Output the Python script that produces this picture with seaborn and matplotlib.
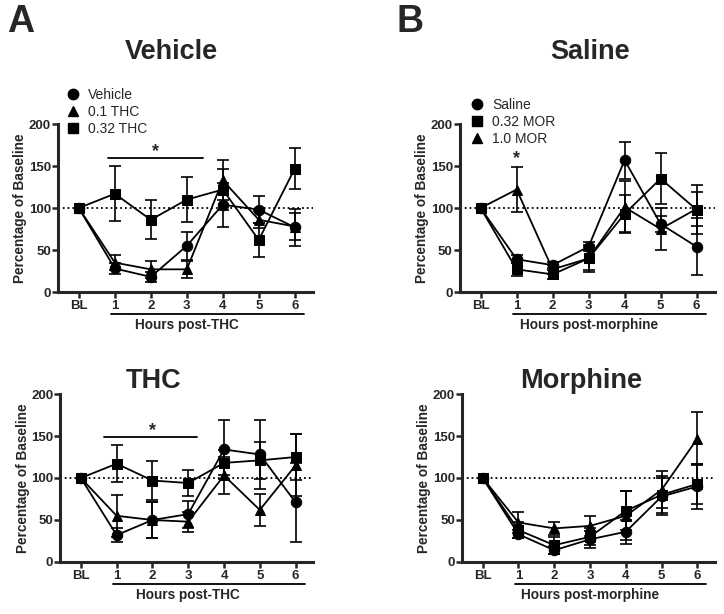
import matplotlib
matplotlib.use("Agg")
import pandas as pd
import matplotlib.pyplot as plt
import seaborn as sns
from matplotlib.lines import Line2D

# x positions and labels
hours = [0, 1, 2, 3, 4, 5, 6]
hour_labels = ["BL", "1", "2", "3", "4", "5", "6"]

# A top: Vehicle
veh_groups = ["Vehicle", "0.1 THC", "0.32 THC"]
veh_vehicle = [100, 28, 18, 55, 104, 98, 77]
veh_vehicle_err = [0, 6, 6, 17, 26, 16, 22]
veh_01thc = [100, 35, 27, 27, 133, 86, 78]
veh_01thc_err = [0, 9, 10, 10, 24, 10, 16]
veh_032thc = [100, 117, 86, 110, 122, 62, 147]
veh_032thc_err = [0, 33, 23, 27, 24, 20, 24]

# A bottom: THC
thc_vehicle = [100, 32, 50, 57, 134, 128, 71]
thc_vehicle_err = [0, 8, 22, 16, 35, 41, 47]
thc_01thc = [100, 55, 50, 48, 103, 62, 115]
thc_01thc_err = [0, 25, 22, 12, 22, 19, 37]
thc_032thc = [100, 117, 97, 94, 118, 121, 125]
thc_032thc_err = [0, 22, 23, 15, 15, 22, 27]

# B top: Saline
mor_groups = ["Saline", "0.32 MOR", "1.0 MOR"]
sal_saline = [100, 39, 32, 54, 157, 81, 54]
sal_saline_err = [0, 5, 4, 5, 22, 10, 34]
sal_032mor = [100, 27, 21, 40, 93, 135, 98]
sal_032mor_err = [0, 8, 5, 14, 22, 30, 29]
sal_10mor = [100, 122, 27, 40, 101, 75, 99]
sal_10mor_err = [0, 27, 5, 16, 31, 25, 20]

# B bottom: Morphine
morph_saline = [100, 33, 14, 27, 36, 78, 90]
morph_saline_err = [0, 5, 5, 10, 14, 22, 27]
morph_032mor = [100, 38, 20, 30, 61, 80, 93]
morph_032mor_err = [0, 10, 10, 10, 23, 22, 24]
morph_10mor = [100, 47, 40, 43, 55, 86, 147]
morph_10mor_err = [0, 13, 8, 12, 29, 22, 31]

sns.set_style("ticks")
plt.rcParams['font.family'] = ['Liberation Sans', 'DejaVu Sans']
plt.rcParams['font.weight'] = 'bold'


def draw_panel(ax, groups, means, errs, markers, title, title_pos, xlab,
               legend_anchor=None, star=None):
    rows = []
    for g, m in zip(groups, means):
        for h, v in zip(hours, m):
            rows.append({"hour": h, "value": v, "group": g})
    df = pd.DataFrame(rows)

    for m, e in zip(means, errs):
        ax.errorbar(hours[1:], m[1:], yerr=e[1:], fmt='none', ecolor='black',
                    elinewidth=1.2, capsize=4, capthick=1.2, zorder=2)

    sns.lineplot(data=df, x="hour", y="value", hue="group", style="group",
                 palette=dict(zip(groups, ["black"] * 3)),
                 markers=dict(zip(groups, markers)), dashes=False,
                 errorbar=None, markersize=7.5, markeredgecolor='black',
                 linewidth=1.3, legend=False, ax=ax, zorder=3)

    ax.axhline(100, ls=':', color='black', lw=1.3, zorder=1)

    ax.set_xlim(-0.58, 6.5)
    ax.set_ylim(0, 200)
    ax.set_xticks(hours)
    ax.set_xticklabels(hour_labels)
    ax.set_yticks([0, 50, 100, 150, 200])
    ax.set_xlabel("")
    ax.set_ylabel("Percentage of Baseline", fontsize=9.8, fontweight='bold', labelpad=1)
    sns.despine(ax=ax)
    for s in ["left", "bottom"]:
        ax.spines[s].set_linewidth(2.2)
    ax.tick_params(axis='y', width=1.8, length=4, labelsize=9.5, pad=1)
    ax.tick_params(axis='x', width=1.8, length=4, labelsize=9.5, pad=2)

    tr = ax.get_xaxis_transform()
    ax.plot([0.9, 6.25], [-0.13, -0.13], transform=tr, color='black',
            lw=1.3, clip_on=False)
    ax.text(3.0, -0.195, xlab, transform=tr, ha='center', va='center',
            fontsize=9.8, fontweight='bold')

    ax.text(title_pos[0], title_pos[1], title, transform=ax.transAxes,
            ha='center', va='center', fontsize=19.5, fontweight='bold')

    if legend_anchor is not None:
        handles = [Line2D([], [], color='black', marker=mk, ls='none', markersize=7.5)
                   for mk in markers]
        ax.legend(handles, groups, loc='upper left', bbox_to_anchor=legend_anchor,
                  frameon=False, handlelength=0.6, handletextpad=0.8,
                  labelspacing=0.22, borderaxespad=0,
                  prop={'size': 10, 'weight': 'normal'})

    if star is not None:
        x0, x1, ybar, xs = star
        if x1 > x0:
            ax.plot([x0, x1], [ybar, ybar], color='black', lw=1.3, clip_on=False)
        ax.text(xs, ybar + 7, '*', ha='center', va='center', fontsize=13,
                fontweight='bold')


fig = plt.figure(figsize=(7.24, 6.14), dpi=100)
ax1 = fig.add_axes([0.080, 0.5244, 0.352, 0.2736])
ax2 = fig.add_axes([0.635, 0.5244, 0.352, 0.2736])
ax3 = fig.add_axes([0.083, 0.0847, 0.350, 0.2736])
ax4 = fig.add_axes([0.638, 0.0847, 0.350, 0.2736])

draw_panel(ax1, veh_groups, [veh_vehicle, veh_01thc, veh_032thc],
           [veh_vehicle_err, veh_01thc_err, veh_032thc_err], ['o', '^', 's'],
           "Vehicle", (0.447, 1.43), "Hours post-THC",
           legend_anchor=(0.02, 1.25), star=(0.8, 3.44, 160, 2.14))
draw_panel(ax2, mor_groups, [sal_saline, sal_032mor, sal_10mor],
           [sal_saline_err, sal_032mor_err, sal_10mor_err], ['o', 's', '^'],
           "Saline", (0.51, 1.43), "Hours post-morphine",
           legend_anchor=(0.03, 1.19), star=(1, 1, 152, 1))
draw_panel(ax3, veh_groups, [thc_vehicle, thc_01thc, thc_032thc],
           [thc_vehicle_err, thc_01thc_err, thc_032thc_err], ['o', '^', 's'],
           "THC", (0.37, 1.08), "Hours post-THC",
           star=(0.64, 3.25, 149, 2.0))
draw_panel(ax4, mor_groups, [morph_saline, morph_032mor, morph_10mor],
           [morph_saline_err, morph_032mor_err, morph_10mor_err], ['o', 's', '^'],
           "Morphine", (0.47, 1.08), "Hours post-morphine")

fig.text(0.029, 0.964, "A", fontsize=27, fontweight='bold', ha='center', va='center')
fig.text(0.566, 0.964, "B", fontsize=27, fontweight='bold', ha='center', va='center')

fig.savefig("out.png", dpi=100)
